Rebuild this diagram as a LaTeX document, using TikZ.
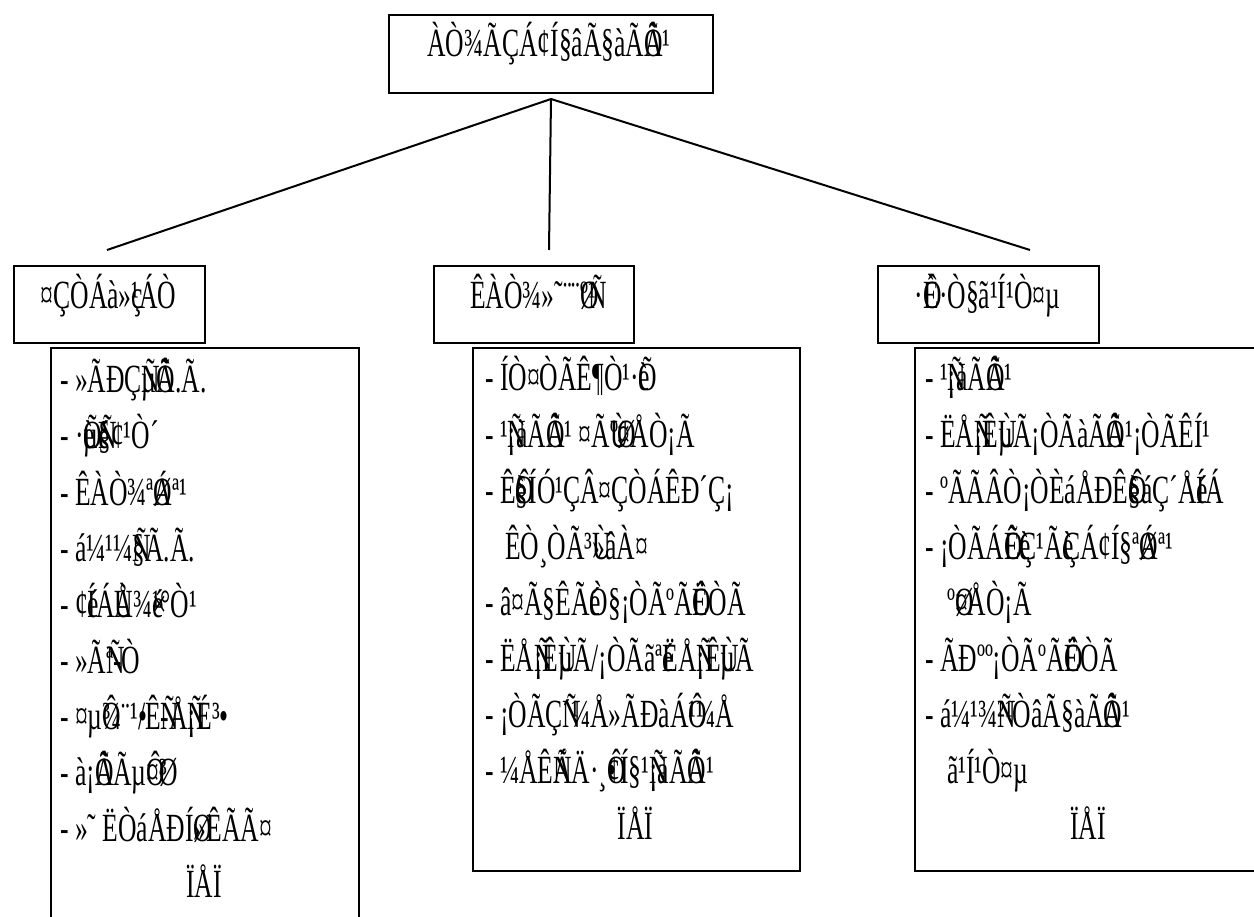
\documentclass[tikz,border=0pt]{standalone}
\usepackage{fontspec}
\setmainfont{Liberation Serif}[FakeStretch=0.64]
% zero-width (overprinting) marks, as in the reference
\def\mkcm#1{\catcode`#1=13 \begingroup\lccode`\~=`#1\lowercase{\endgroup\def~}{\rlap{#1}}}
\def\mkcmb#1#2{\catcode`#1=13 \begingroup\lccode`\~=`#1\lowercase{\endgroup\def~}{\rlap{#2}}}
\mkcm Ñ\mkcm Ô\mkcm Õ\mkcm Ö\mkcm ×\mkcm Ø\mkcm Ù\mkcm Ú
\mkcm ç\mkcm è\mkcm é\mkcm ê\mkcm ë\mkcm í\mkcm î
\mkcmb ì•
\begin{document}
\begin{tikzpicture}[x=1pt,y=-1pt,font=\fontsize{40}{46}\selectfont,
  box/.style={draw,line width=2pt,inner sep=0pt,anchor=north west,fill=none},
  txt/.style={anchor=base west,inner sep=0pt},
  ctr/.style={anchor=base,inner sep=0pt},
  link/.style={line width=2pt}]
\useasboundingbox (0,0) rectangle (1254,917);
\fill[white] (0,0) rectangle (1254,917);
\clip (0,0) rectangle (1254,917);
% title
\node[box,minimum width=324pt,minimum height=78pt] (titlebox) at (388,14) {};
\node[ctr] (title) at (549,57) {ÀÒ¾ÃÇÁ¢Í§âÃ§àÃÕÂ¹};
% connectors
\coordinate (apex) at ([yshift=-5pt]titlebox.south);
\coordinate (e1) at (107,250);
\coordinate (e2) at (549,250);
\coordinate (e3) at (1030,250);
\draw[link] (apex) -- (e1);
\draw[link] (apex) -- (e2);
\draw[link] (apex) -- (e3);
% header boxes
\node[box,minimum width=191pt,minimum height=77pt] (hA) at (13,265) {};
\node[ctr] (hAt) at (108.5,309) {¤ÇÒÁà»ç¹ÁÒ};
\node[box,minimum width=200pt,minimum height=77pt] (hB) at (433,265) {};
\node[ctr] (hBt) at (533,309) {ÊÀÒ¾»˜¨¨ØºÑ¹};
\node[box,minimum width=221pt,minimum height=77pt] (hC) at (877,265) {};
\node[ctr] (hCt) at (987.5,309) {·ÔÈ·Ò§ã¹Í¹Ò¤µ};
% list boxes
\node[box,minimum width=308pt,minimum height=600pt] (lA) at (50,347) {};
\node[box,minimum width=327pt,minimum height=523pt] (lB) at (472,347) {};
\node[box,minimum width=350pt,minimum height=523pt] (lC) at (914,347) {};
% left list
\node[txt] (a1) at (60,393) {- »ÃÐÇÑµÔÃ.Ã.};
\node[txt] (a2) at (60,449) {- ·ÕèµÑé§¢¹Ò´};
\node[txt] (a3) at (60,505) {- ÊÀÒ¾ªØÁª¹};
\node[txt] (a4) at (60,561) {- á¼¹¼Ñ§Ã.Ã.};
\node[txt] (a5) at (60,617) {- ¢éÍÁÙÅ¾×é¹°Ò¹};
\node[txt] (a6) at (60,673) {- »ÃÑª-Ò};
\node[txt] (a7) at (60,729) {- ¤µÔ¾¨¹ì/ÊÑ-ÅÑ¡É³ì};
\node[txt] (a8) at (60,785) {- à¡ÕÂÃµÔ¤Ø³};
\node[txt] (a9) at (60,841) {- »˜ ËÒáÅÐÍØ»ÊÃÃ¤};
\node[ctr] (a10) at (204,897) {ÏÅÏ};
% middle list
\node[txt] (b1) at (485,391) {- ÍÒ¤ÒÃÊ¶Ò¹·Õè};
\node[txt] (b2) at (485,447) {- ¹Ñ¡àÃÕÂ¹ ¤ÃÙºØ¤ÅÒ¡Ã};
\node[txt] (b3) at (485,503) {- ÊÔè§ÍÓ¹ÇÂ¤ÇÒÁÊÐ´Ç¡};
\node[txt] (b4) at (505,559) {ÊÒ¸ÒÃ³Ù»âÀ¤};
\node[txt] (b5) at (485,615) {- â¤Ã§ÊÃéÒ§¡ÒÃºÃÔËÒÃ};
\node[txt] (b6) at (485,671) {- ËÅÑ¡ÊÙµÃ/¡ÒÃãªéËÅÑ¡ÊÙµÃ};
\node[txt] (b7) at (485,727) {- ¡ÒÃÇÑ´¼Å»ÃÐàÁÔ¹¼Å};
\node[txt] (b8) at (485,783) {- ¼ÅÊÑÁÄ·¸Ôì¢Í§¹Ñ¡àÃÕÂ¹};
\node[ctr] (b9) at (635.5,839) {ÏÅÏ};
% right list
\node[txt] (c1) at (925,391) {- ¹Ñ¡àÃÕÂ¹};
\node[txt] (c2) at (925,447) {- ËÅÑ¡ÊÙµÃ¡ÒÃàÃÕÂ¹¡ÒÃÊÍ¹};
\node[txt] (c3) at (925,503) {- ºÃÃÂÒ¡ÒÈáÅÐÊÔè§áÇ´ÅéÍÁ};
\node[txt] (c4) at (925,559) {- ¡ÒÃÁÕÊèÇ¹ÃèÇÁ¢Í§ªØÁª¹};
\node[txt] (c5) at (947,615) {ºØ¤ÅÒ¡Ã};
\node[txt] (c6) at (925,671) {- ÃÐºº¡ÒÃºÃÔËÒÃ};
\node[txt] (c7) at (925,727) {- á¼¹¾Ñ²¹ÒâÃ§àÃÕÂ¹};
\node[txt] (c8) at (947,783) {ã¹Í¹Ò¤µ};
\node[ctr] (c9) at (1088,839) {ÏÅÏ};
\end{tikzpicture}
\end{document}
